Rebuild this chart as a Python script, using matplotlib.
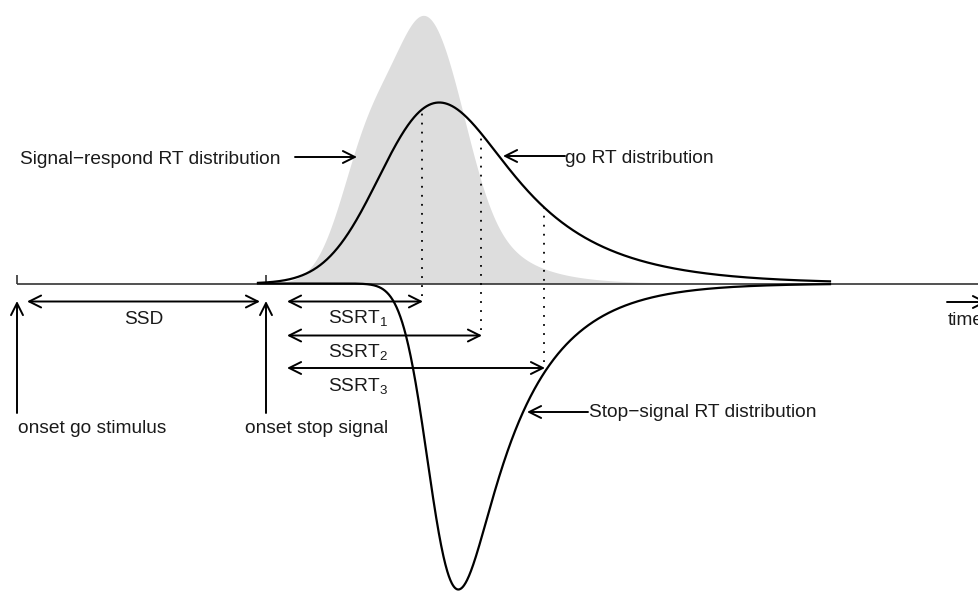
import numpy as np
import matplotlib
matplotlib.use("Agg")
import matplotlib.pyplot as plt
from matplotlib.patches import FancyArrowPatch, ArrowStyle
from math import erf

plt.rcParams['font.family'] = ['Liberation Sans', 'DejaVu Sans']
plt.rcParams['mathtext.default'] = 'regular'

# ---------------- data (time axis in ms from go onset; heights in density units)
onset_go = 0
ssd = 249
ssrt_ends = [405, 464, 527]                       # SSD + SSRT_i
ssrt_labels = ['SSRT$_1$', 'SSRT$_2$', 'SSRT$_3$']
t_start, t_end = 241, 813

# go RT distribution (ex-Gaussian)
go_mu, go_sigma, go_tau, go_peak = 378, 47, 80, 181
# stop-signal RT distribution (ex-Gaussian, drawn downwards)
stop_mu, stop_sigma, stop_tau, stop_peak = 416, 22, 58, 306
# signal-respond RT distribution (mixture read from the shaded shape)
sr_means = [408, 351]
sr_sds = [30, 28]
sr_amps = [240, 130]
sr_tail_mu, sr_tail_sigma, sr_tail_tau, sr_tail_amp = 433, 20, 40, 65

# ---------------- layout
ssrt_arrow_y = [-18, -52, -84.5]
ssrt_label_y = [-39.5, -73.5, -107]
TXT = 13.8
INK = '#1a1a1a'

_erf = np.vectorize(erf)


def exgauss(t, mu, sigma, tau):
    z = (t - mu) / sigma - sigma / tau
    return np.exp(sigma**2 / (2 * tau**2) - (t - mu) / tau) * 0.5 * (1 + _erf(z / np.sqrt(2))) / tau


t = np.linspace(t_start, t_end, 1500)

go_raw = exgauss(t, go_mu, go_sigma, go_tau)
go_scale = go_peak / go_raw.max()
go = go_raw * go_scale

stop_raw = exgauss(t, stop_mu, stop_sigma, stop_tau)
stop = stop_raw * stop_peak / stop_raw.max()

tail_raw = exgauss(t, sr_tail_mu, sr_tail_sigma, sr_tail_tau)
sr = sr_tail_amp * tail_raw / tail_raw.max()
for m, s, a in zip(sr_means, sr_sds, sr_amps):
    sr = sr + a * np.exp(-(t - m)**2 / (2 * s**2))

fig = plt.figure(figsize=(9.79, 5.92), dpi=100)
ax = fig.add_axes([0, 0, 1, 1])
ax.set_xlim(-17, 962)
ax.set_ylim(-308.5, 283.5)
ax.axis('off')

ax.fill_between(t, 0, sr, color='#dddddd', lw=0, zorder=1)
ax.plot([onset_go, 980], [0, 0], color='#333333', lw=1.2, zorder=2, solid_capstyle='butt')
ax.vlines([onset_go, ssd], 0, 9, color='#333333', lw=1.2, zorder=2)
ax.plot(t, go, color='k', lw=1.6, zorder=3)
ax.plot(t, -stop, color='k', lw=1.6, zorder=3)

# dotted lines at SSD + SSRT
for x, ya in zip(ssrt_ends, ssrt_arrow_y):
    ytop = exgauss(np.array([x]), go_mu, go_sigma, go_tau)[0] * go_scale
    ax.plot([x, x], [ya + 6, ytop], color='k', lw=1.3, linestyle=(0, (1, 4)), zorder=3)


def arrow(p0, p1, style):
    st = ArrowStyle(style, head_length=8.6, head_width=4.3)
    ax.add_patch(FancyArrowPatch(p0, p1, arrowstyle=st, mutation_scale=1, lw=1.4,
                                 color='k', shrinkA=0, shrinkB=0, zorder=4,
                                 clip_on=False))


# SSD
arrow((10, -18), (243, -18), '<->')
ax.text((10 + 243) / 2, -40, 'SSD', ha='center', va='baseline', fontsize=TXT, color=INK)
# SSRTs
for x, ya, yl, lab in zip(ssrt_ends, ssrt_arrow_y, ssrt_label_y, ssrt_labels):
    arrow((270, ya), (x + 1, ya), '<->')
    ax.text(311, yl, lab, ha='left', va='baseline', fontsize=TXT, color=INK)

# onset arrows
arrow((onset_go, -129.5), (onset_go, -17.5), '->')
arrow((ssd, -129.5), (ssd, -17.5), '->')
ax.text(1, -149.5, 'onset go stimulus', ha='left', va='baseline', fontsize=TXT, color=INK)
ax.text(228, -149.5, 'onset stop signal', ha='left', va='baseline', fontsize=TXT, color=INK)

# time
arrow((930, -18.5), (970, -18.5), '->')
ax.text(931, -41.5, 'time', ha='left', va='baseline', fontsize=TXT, color=INK)

# distribution labels
ax.text(3, 119.5, 'Signal\u2212respond RT distribution', ha='left', va='baseline',
        fontsize=TXT, color=INK)
arrow((278, 126.5), (340, 126.5), '->')
ax.text(548, 120.5, 'go RT distribution', ha='left', va='baseline', fontsize=TXT, color=INK)
arrow((548, 127.5), (486, 127.5), '->')
ax.text(572, -133.5, 'Stop\u2212signal RT distribution', ha='left', va='baseline',
        fontsize=TXT, color=INK)
arrow((571, -128.5), (510, -128.5), '->')

fig.savefig('out.png', dpi=100)
